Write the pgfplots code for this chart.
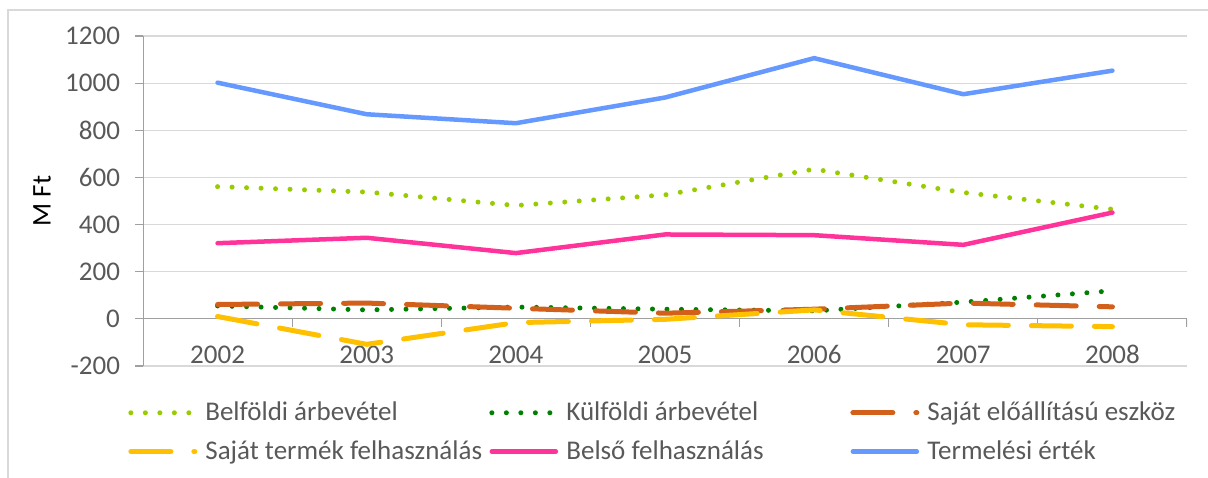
\documentclass[border=0pt]{standalone}
\usepackage{fontspec}
\setmainfont{Carlito}
\usepackage{pgfplots}
\pgfplotsset{compat=1.18}
\definecolor{txt}{HTML}{595959}
\definecolor{gridgray}{HTML}{D9D9D9}
\definecolor{axisgray}{HTML}{A0A0A0}
\definecolor{bordergray}{HTML}{D9D9D9}
\definecolor{cBelf}{HTML}{99CC00}
\definecolor{cKulf}{HTML}{008000}
\definecolor{cEszk}{HTML}{D2601A}
\definecolor{cTerm}{HTML}{FFC000}
\definecolor{cBelso}{HTML}{FF3399}
\definecolor{cErt}{HTML}{6699FF}
\begin{document}
\begin{tikzpicture}[font=\fontsize{13.5}{16}\selectfont]
\useasboundingbox (0,0) rectangle (604pt,238.5pt);
\draw[bordergray, line width=0.6pt] (4pt,-20pt) rectangle (640pt,233.5pt);
\begin{axis}[
  at={(71.5pt,55.5pt)}, anchor=south west,
  scale only axis, width=522pt, height=165pt,
  xmin=-0.5, xmax=6.5, ymin=-200, ymax=1200,
  xtick={0,1,2,3,4,5,6},
  xticklabels={2002,2003,2004,2005,2006,2007,2008},
  ytick={-200,0,200,400,600,800,1000,1200},
  yticklabels={-200,0,200,400,600,800,1000,1200},
  ytick pos=left,
  axis line style={draw=none},
  ymajorgrids, grid style={gridgray, line width=0.6pt},
  tick align=outside, major tick length=4pt,
  ytick style={axisgray, line width=0.6pt},
  xtick style={draw=none},
  ticklabel style={text=txt},
  xticklabel style={anchor=base, yshift=5.5pt},
  yticklabel style={xshift=-4pt},
  every axis y label/.style={at={(axis description cs:-0.0967,0.5)}, rotate=90, anchor=center, text=black},
  ylabel={M Ft},
  legend columns=3,
  legend style={at={(axis description cs:-0.0144,-0.1015)}, anchor=north west,
    draw=none, fill=none, inner sep=0pt, row sep=6.5pt,
    cells={anchor=west}, nodes={inner sep=1pt, text=txt},
    /tikz/every odd column/.append style={column sep=3pt},
    /tikz/every even column/.append style={column sep=0pt}},
  legend image code/.code={\draw[#1] (0pt,0pt) -- (32pt,0pt);},
]
\draw[axisgray, line width=0.6pt] (axis cs:-0.5,-200) -- (axis cs:-0.5,1200);
\draw[axisgray, line width=0.6pt] (axis cs:-0.5,0) -- (axis cs:6.5,0);
\pgfplotsinvokeforeach{-0.5,0.5,1.5,2.5,3.5,4.5,5.5,6.5}{
  \draw[axisgray, line width=0.6pt] (axis cs:#1,0) -- ++(0pt,-4pt);
}
\addplot[cBelf, line width=2.5pt, line cap=round, dash pattern=on 0pt off 7.25pt] coordinates {
(0,561) (1,538) (2,481) (3,526) (4,635) (5,536) (6,465)};
\addlegendentry{\makebox[141pt][l]{Belföldi árbevétel}}
\addplot[cKulf, line width=2.5pt, line cap=round, dash pattern=on 0pt off 7.25pt] coordinates {
(0,55) (1,38) (2,50) (3,41) (4,34) (5,71) (6,119)};
\addlegendentry{\makebox[141pt][l]{Külföldi árbevétel}}
\addplot[cEszk, line width=2.5pt, line cap=round, dash pattern=on 20pt off 11.5pt] coordinates {
(0,61) (1,67) (2,45) (3,24) (4,41) (5,67) (6,51)};
\addlegendentry{Saját előállítású eszköz}
\addplot[cTerm, line width=2.5pt, line cap=round, dash pattern=on 20pt off 11.5pt] coordinates {
(0,10) (1,-108) (2,-16) (3,-2) (4,38) (5,-25) (6,-33)};
\addlegendentry{\makebox[141pt][l]{Saját termék felhasználás}}
\addplot[cBelso, line width=2.25pt, line cap=round, line join=round] coordinates {
(0,321) (1,344) (2,279) (3,358) (4,355) (5,314) (6,451)};
\addlegendentry{\makebox[141pt][l]{Belső felhasználás}}
\addplot[cErt, line width=2.25pt, line cap=round, line join=round] coordinates {
(0,1002) (1,868) (2,830) (3,939) (4,1106) (5,953) (6,1053)};
\addlegendentry{Termelési érték}
\end{axis}
\end{tikzpicture}
\end{document}
